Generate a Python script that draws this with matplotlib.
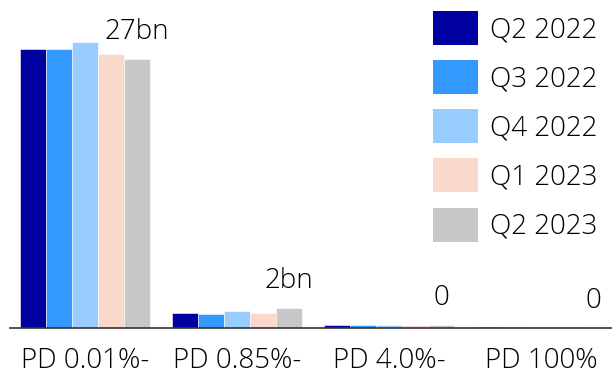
import matplotlib
matplotlib.use("Agg")
import matplotlib.pyplot as plt
import numpy as np

categories = ["PD 0.01%-", "PD 0.85%-", "PD 4.0%-", "PD 100%"]
series_names = ["Q2 2022", "Q3 2022", "Q4 2022", "Q1 2023", "Q2 2023"]
values = {
    "Q2 2022": [27.9, 1.5, 0.30, 0.08],
    "Q3 2022": [27.9, 1.4, 0.30, 0.08],
    "Q4 2022": [28.6, 1.7, 0.27, 0.06],
    "Q1 2023": [27.4, 1.5, 0.27, 0.06],
    "Q2 2023": [26.9, 2.0, 0.33, 0.05],
}
labels = ["27bn", "2bn", "0", "0"]
colors = ["#0000a0", "#3399ff", "#99ccff", "#fad8cb", "#c8c8c8"]

plt.rcParams['font.family'] = ['Open Sans', 'DejaVu Sans']
plt.rcParams['font.weight'] = 300

fig = plt.figure(figsize=(6.12, 3.74), dpi=100)
ax = fig.add_axes([10/612, 46/374, 602/612, 328/374])

bw = 26/152
x = np.arange(len(categories))
for i, name in enumerate(series_names):
    ax.bar(x + (i - 2) * bw, values[name], width=bw, color=colors[i],
           label=name, edgecolor='white', linewidth=0.4)

last = values[series_names[-1]]
for xi, v, lab in zip(x, last, labels):
    ax.annotate(lab, (xi + 2 * bw, v), xytext=(0, 9), textcoords='offset points',
                ha='center', va='bottom', fontsize=20, color='#000000')

ax.set_xlim(-75/152, 3 + 71/152)
ax.set_ylim(0, 32.8)
ax.set_xticks(x)
ax.set_xticklabels(categories, fontsize=20, color='#000000')
ax.tick_params(axis='x', length=0, pad=14)
ax.set_yticks([])
for s in ['top', 'right', 'left']:
    ax.spines[s].set_visible(False)
ax.spines['bottom'].set_color('#333333')
ax.spines['bottom'].set_linewidth(1.2)

leg = ax.legend(loc='upper left', bbox_to_anchor=(433/612, 1 - 11/374),
                bbox_transform=fig.transFigure, frameon=False, fontsize=20,
                handlelength=1.62, handleheight=1.5, labelspacing=0.55,
                handletextpad=0.43, borderpad=0, borderaxespad=0)
for t in leg.get_texts():
    t.set_color('#000000')
for h in leg.legend_handles:
    h.set_edgecolor('none')

fig.savefig("out.png", dpi=100)
